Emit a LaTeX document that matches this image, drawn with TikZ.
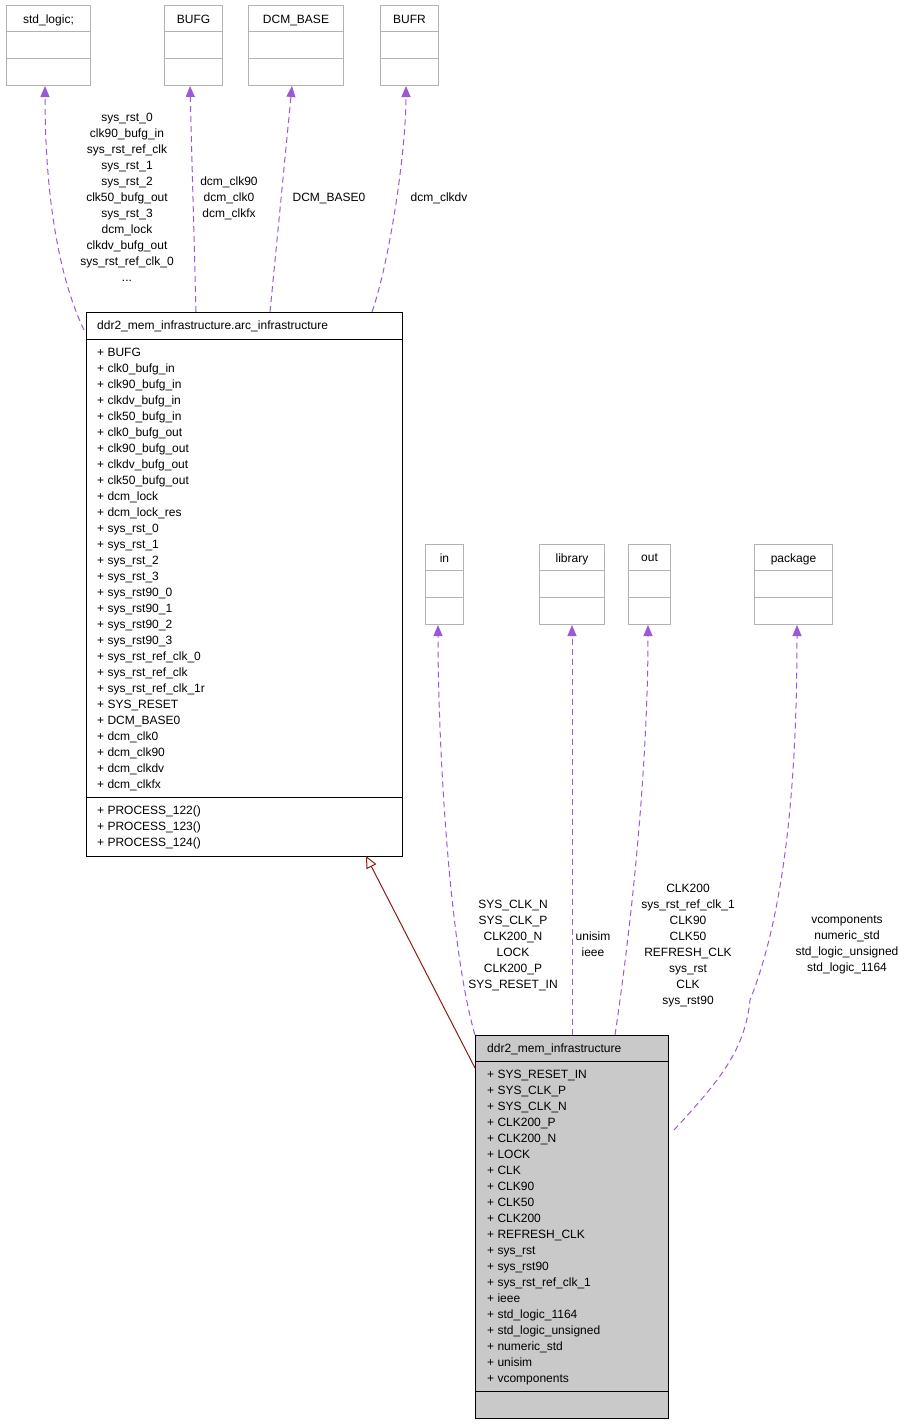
\documentclass[tikz,border=0pt]{standalone}
\usepackage{fontspec}
\setmainfont{Liberation Sans}
\usetikzlibrary{arrows.meta,positioning}

\definecolor{edgepurple}{HTML}{9A5AD8}
\definecolor{inhred}{HTML}{8B1A1A}
\tikzset{
  cls/.style={draw=black!30, line width=1pt, anchor=north west, inner sep=0pt},
  clsmain/.style={draw=black, line width=1pt, anchor=north west, inner sep=0pt},
  title/.style={anchor=north, inner sep=0pt, font=\fontsize{12}{16}\selectfont},
  members/.style={anchor=north west, inner sep=0pt, align=left, font=\fontsize{12}{16}\selectfont},
  lbl/.style={align=center, inner sep=0pt, font=\fontsize{12}{16}\selectfont},
  usage/.style={draw=edgepurple, line width=1pt, dash pattern=on 6pt off 4pt, -{Triangle[length=11pt,width=9pt]}},
  inherit/.style={draw=inhred, line width=1pt, -{Triangle[open,length=12pt,width=11pt]}}
}

\begin{document}
\begin{tikzpicture}[x=1pt,y=-1pt]
  \useasboundingbox (0,0) rectangle (919,1427);

  % used classes, top row
  \node[cls, minimum width=84, minimum height=80] (stdlogic) at (6,5) {};
  \node[cls, minimum width=58, minimum height=80] (bufg) at (164,5) {};
  \node[cls, minimum width=95, minimum height=80] (dcmbase) at (248,5) {};
  \node[cls, minimum width=58, minimum height=80] (bufr) at (380,5) {};
  \foreach \b/\t in {stdlogic/std\_logic;, bufg/BUFG, dcmbase/DCM\_BASE, bufr/BUFR} {
    \node[title] at ([yshift=-10]\b.north) {\t};
    \draw[black!30, line width=1pt] ([yshift=-26]\b.north west) -- ([yshift=-26]\b.north east);
    \draw[black!30, line width=1pt] ([yshift=-53]\b.north west) -- ([yshift=-53]\b.north east);
  }

  % used classes, middle row
  \node[cls, minimum width=38, minimum height=80] (in) at (425,544) {};
  \node[cls, minimum width=65, minimum height=80] (library) at (539,544) {};
  \node[cls, minimum width=42, minimum height=80] (out) at (628,544) {};
  \node[cls, minimum width=78, minimum height=80] (package) at (754,544) {};
  \foreach \b/\t in {in/in, library/library, out/out, package/package} {
    \node[title] at ([yshift=-10]\b.north) {\t};
    \draw[black!30, line width=1pt] ([yshift=-26]\b.north west) -- ([yshift=-26]\b.north east);
    \draw[black!30, line width=1pt] ([yshift=-53]\b.north west) -- ([yshift=-53]\b.north east);
  }

  % architecture class
  \node[clsmain, minimum width=316, minimum height=544] (arc) at (86,312) {};
  \node[title, anchor=north west] at (97,321) {ddr2\_mem\_infrastructure.arc\_infrastructure};
  \draw[line width=1pt] ([yshift=-27]arc.north west) -- ([yshift=-27]arc.north east);
  \draw[line width=1pt] ([yshift=-485]arc.north west) -- ([yshift=-485]arc.north east);
  \node[members] (arcattr) at (97,348) {+ BUFG\\+ clk0\_bufg\_in\\+ clk90\_bufg\_in\\+ clkdv\_bufg\_in\\+ clk50\_bufg\_in\\+ clk0\_bufg\_out\\+ clk90\_bufg\_out\\+ clkdv\_bufg\_out\\+ clk50\_bufg\_out\\+ dcm\_lock\\+ dcm\_lock\_res\\+ sys\_rst\_0\\+ sys\_rst\_1\\+ sys\_rst\_2\\+ sys\_rst\_3\\+ sys\_rst90\_0\\+ sys\_rst90\_1\\+ sys\_rst90\_2\\+ sys\_rst90\_3\\+ sys\_rst\_ref\_clk\_0\\+ sys\_rst\_ref\_clk\\+ sys\_rst\_ref\_clk\_1r\\+ SYS\_RESET\\+ DCM\_BASE0\\+ dcm\_clk0\\+ dcm\_clk90\\+ dcm\_clkdv\\+ dcm\_clkfx};
  \node[members] (arcops) at (97,806) {+ PROCESS\_122()\\+ PROCESS\_123()\\+ PROCESS\_124()};

  % entity
  \node[clsmain, fill=black!21, minimum width=193, minimum height=383] (ent) at (475,1035) {};
  \node[title, anchor=north west] at (487,1044) {ddr2\_mem\_infrastructure};
  \draw[line width=1pt] ([yshift=-26]ent.north west) -- ([yshift=-26]ent.north east);
  \draw[line width=1pt] ([yshift=-356]ent.north west) -- ([yshift=-356]ent.north east);
  \node[members] (entattr) at (487,1070) {+ SYS\_RESET\_IN\\+ SYS\_CLK\_P\\+ SYS\_CLK\_N\\+ CLK200\_P\\+ CLK200\_N\\+ LOCK\\+ CLK\\+ CLK90\\+ CLK50\\+ CLK200\\+ REFRESH\_CLK\\+ sys\_rst\\+ sys\_rst90\\+ sys\_rst\_ref\_clk\_1\\+ ieee\\+ std\_logic\_1164\\+ std\_logic\_unsigned\\+ numeric\_std\\+ unisim\\+ vcomponents};

  % connector ends
  \coordinate (arcA) at (84,330);
  \coordinate (arcB) at (196,312);
  \coordinate (arcC) at (270,312);
  \coordinate (arcD) at (372,312);
  \coordinate (arcE) at (366,856);
  \coordinate (entA) at (475,1068);
  \coordinate (entB) at (475,1035);
  \coordinate (entC) at (572,1035);
  \coordinate (entD) at (615,1035);
  \coordinate (entE) at (674,1130);

  \draw[usage] (arcA) .. controls (60,280) and (45,200) .. (stdlogic.south -| 45,0);
  \draw[usage] (arcB) -- (bufg.south -| 190,0);
  \draw[usage] (arcC) -- (dcmbase.south -| 292,0);
  \draw[usage] (arcD) .. controls (390,260) and (406,150) .. (bufr.south -| 406,0);
  \draw[inherit] (entA) -- (arcE);
  \draw[usage] (entB) .. controls (450,950) and (438,750) .. (in.south -| 438,0);
  \draw[usage] (entC) -- (library.south -| 572,0);
  \draw[usage] (entD) .. controls (635,900) and (648,750) .. (out.south -| 648,0);
  \draw[usage] (entE) .. controls (720,1080) and (745,1050) .. (750,1000) .. controls (790,900) and (797,750) .. (package.south -| 797,0);

  % labels
  \node[lbl, anchor=north] (l1) at (127,113) {sys\_rst\_0\\clk90\_bufg\_in\\sys\_rst\_ref\_clk\\sys\_rst\_1\\sys\_rst\_2\\clk50\_bufg\_out\\sys\_rst\_3\\dcm\_lock\\clkdv\_bufg\_out\\sys\_rst\_ref\_clk\_0\\...};
  \node[lbl, anchor=north] (l2) at (229,177) {dcm\_clk90\\dcm\_clk0\\dcm\_clkfx};
  \node[lbl, anchor=north] (l3) at (329,193) {DCM\_BASE0};
  \node[lbl, anchor=north] (l4) at (439,193) {dcm\_clkdv};
  \node[lbl, anchor=north] (l5) at (513,900) {SYS\_CLK\_N\\SYS\_CLK\_P\\CLK200\_N\\LOCK\\CLK200\_P\\SYS\_RESET\_IN};
  \node[lbl, anchor=north] (l6) at (593,932) {unisim\\ieee};
  \node[lbl, anchor=north] (l7) at (688,884) {CLK200\\sys\_rst\_ref\_clk\_1\\CLK90\\CLK50\\REFRESH\_CLK\\sys\_rst\\CLK\\sys\_rst90};
  \node[lbl, anchor=north] (l8) at (847,916) {vcomponents\\numeric\_std\\std\_logic\_unsigned\\std\_logic\_1164};
\end{tikzpicture}
\end{document}
